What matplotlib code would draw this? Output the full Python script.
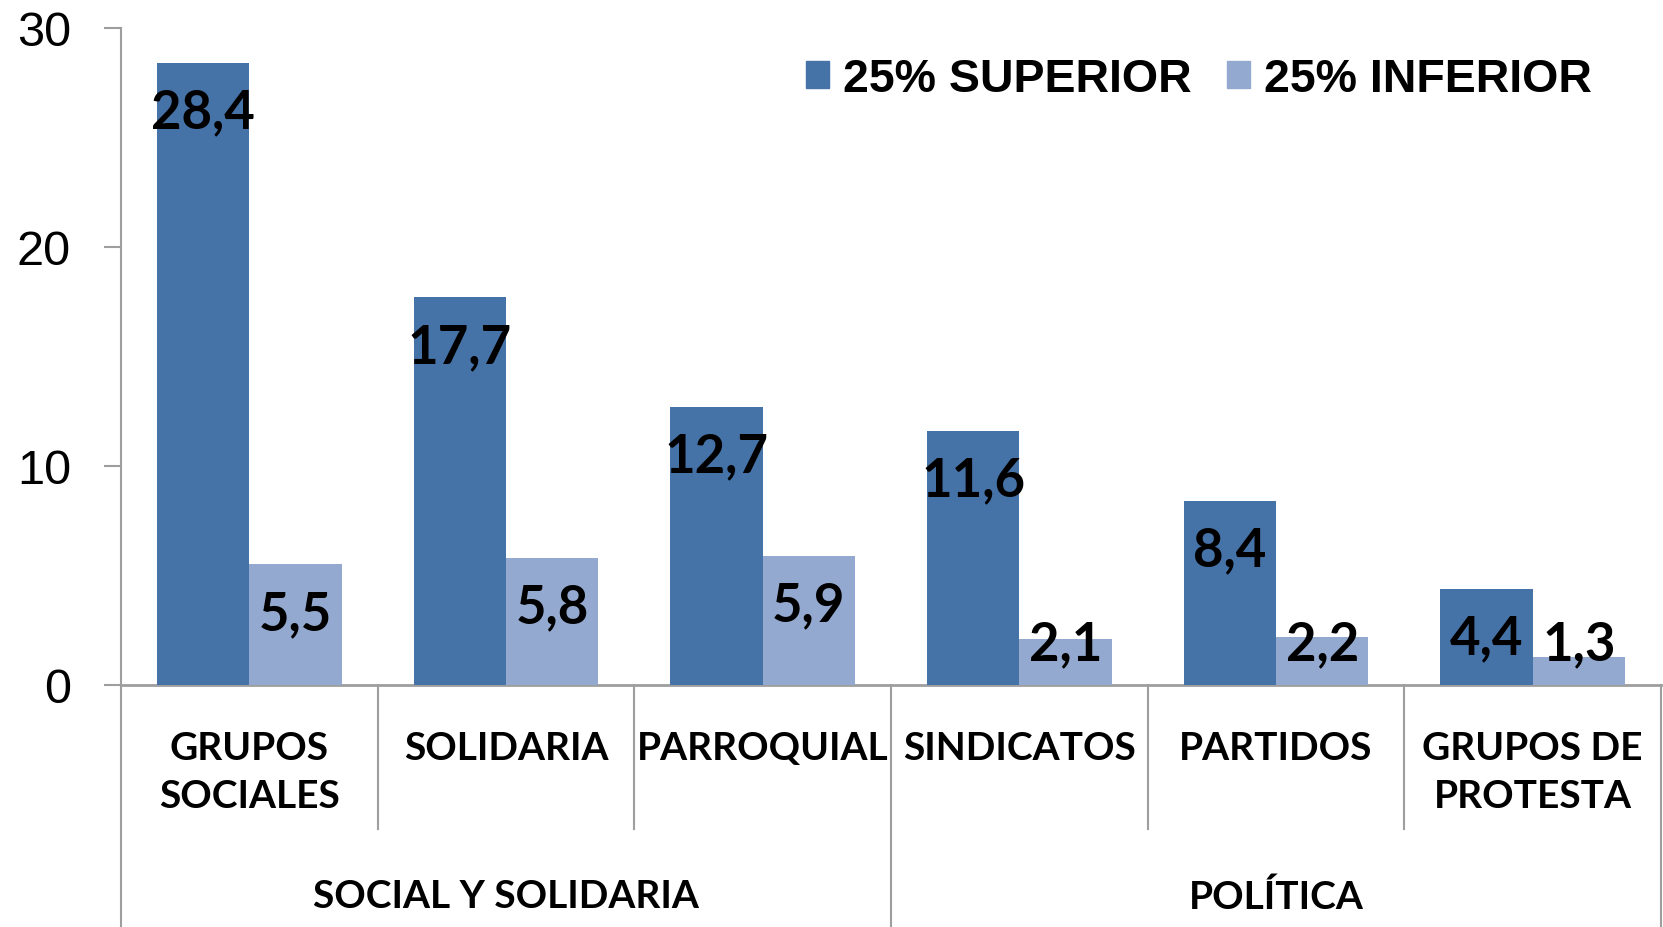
import matplotlib

matplotlib.use("Agg")

import matplotlib.pyplot as plt
import numpy as np
from matplotlib.patches import Patch

categories = ["GRUPOS\nSOCIALES", "SOLIDARIA", "PARROQUIAL", "SINDICATOS", "PARTIDOS", "GRUPOS DE\nPROTESTA"]
groups = ["SOCIAL Y SOLIDARIA", "POLÍTICA"]
group_sizes = [3, 3]
superior = [28.4, 17.7, 12.7, 11.6, 8.4, 4.4]
inferior = [5.5, 5.8, 5.9, 2.1, 2.2, 1.3]
series_names = ["25% SUPERIOR", "25% INFERIOR"]
yticks = [0, 10, 20, 30]

DARK = "#4572A7"
LIGHT = "#94A9CF"
GRID = "#9E9E9E"
LABEL_FONT = "Lato"

W, H = 1663, 928
fig = plt.figure(figsize=(W / 100, H / 100), dpi=100)
ax = fig.add_axes([121 / W, 1 - 686 / H, (1661 - 121) / W, (686 - 28.6) / H])

x = np.arange(len(categories)) + 0.5
bw = 0.36
ax.bar(x - bw / 2, superior, bw, color=DARK, zorder=2)
ax.bar(x + bw / 2, inferior, bw, color=LIGHT, zorder=2)

# value labels: inside the bar top, never lower than a minimum height
for xs, vals in [(x - bw / 2, superior), (x + bw / 2, inferior)]:
    for xi, v in zip(xs, vals):
        ax.text(xi, max(v - 2.25, 1.9), f"{v:.1f}".replace(".", ","),
                ha="center", va="center", fontsize=38, fontweight="bold",
                family=LABEL_FONT, color="black", zorder=3)

ax.set_xlim(0, len(categories))
ax.set_ylim(0, 30)
ax.set_yticks(yticks)
ax.set_xticks([])
ax.tick_params(axis="y", direction="out", length=12, width=1.5, color=GRID,
               pad=24, labelsize=35)
for lab in ax.get_yticklabels():
    lab.set_family("Liberation Sans")
for side in ["top", "right", "bottom"]:
    ax.spines[side].set_visible(False)
ax.spines["left"].set_color(GRID)
ax.spines["left"].set_linewidth(1.5)
ax.axhline(0, color=GRID, lw=2, zorder=1, clip_on=False)

# category axis: separators and labels below the plot
trans = ax.get_xaxis_transform()
axes_h = 686 - 28.6
short = -144 / axes_h
long = -245 / axes_h
bounds = [0]
for n in group_sizes:
    bounds.append(bounds[-1] + n)
for b in range(len(categories) + 1):
    y0 = long if b in bounds else short
    ax.plot([b, b], [0, y0], transform=trans, color=GRID, lw=1.5, clip_on=False)
for xi, cat in zip(x, categories):
    ax.text(xi, -45 / axes_h, cat, transform=trans, ha="center", va="top",
            fontsize=28, fontweight="bold", family=LABEL_FONT, linespacing=1.45)
for i, g in enumerate(groups):
    ax.text((bounds[i] + bounds[i + 1]) / 2, -211 / axes_h, g, transform=trans,
            ha="center", va="center", fontsize=28, fontweight="bold", family=LABEL_FONT)

handles = [Patch(color=DARK), Patch(color=LIGHT)]
fig.legend(handles, series_names, loc="center left",
           bbox_to_anchor=(806 / W, 1 - 80 / H), ncol=2, frameon=False,
           prop={"family": "Liberation Sans", "weight": "bold", "size": 33.5},
           handlelength=0.5, handleheight=0.5, handletextpad=0.3,
           columnspacing=0.75, borderpad=0, borderaxespad=0)

fig.savefig("out.png", dpi=100)
